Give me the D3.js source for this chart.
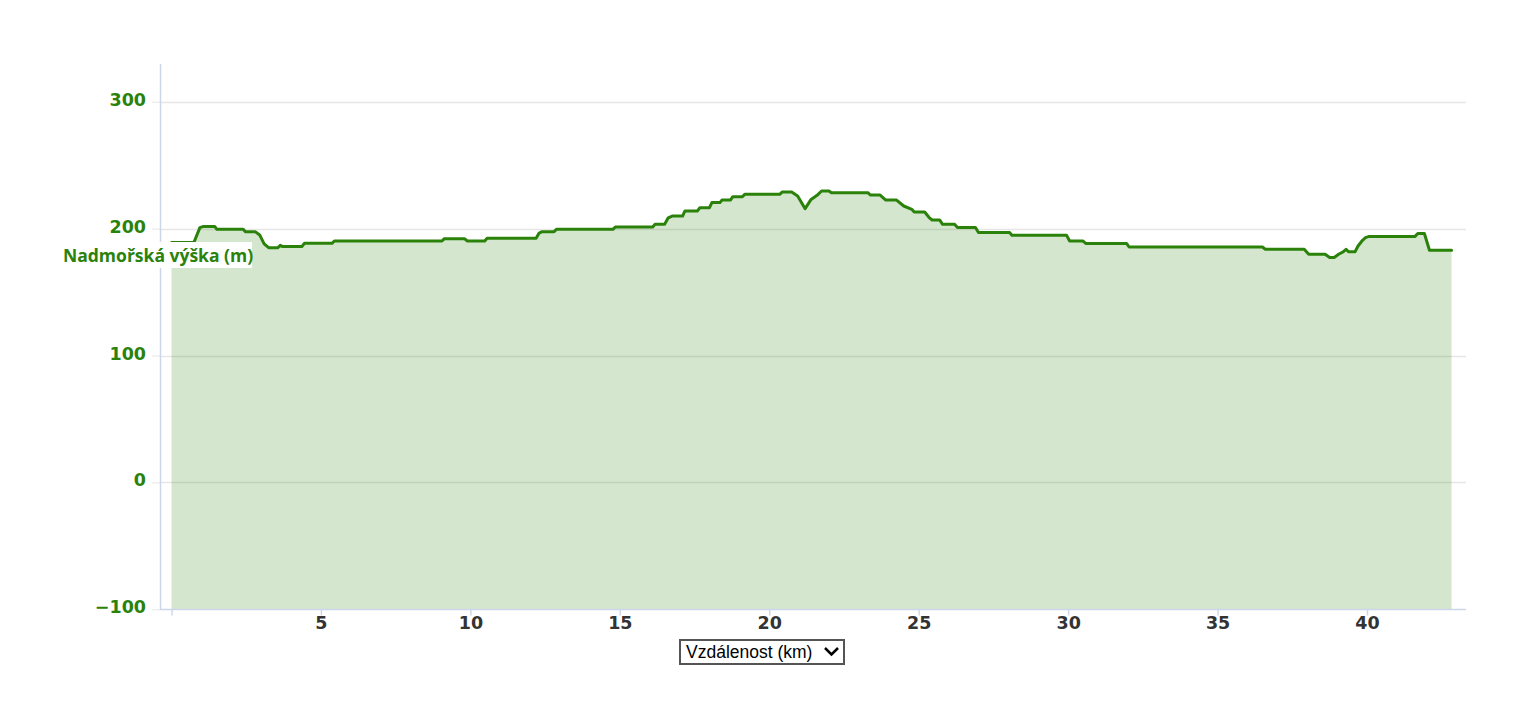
<!DOCTYPE html>
<html>
<head>
<meta charset="utf-8">
<script src="https://cdn.jsdelivr.net/npm/d3@7"></script>
<style>
  html, body { margin: 0; padding: 0; background: #fff; }
  svg { display: block; }
</style>
</head>
<body>
<svg id="chart" width="1522" height="706"></svg>
<script>
// ---- data ----
const distanceKm = [0, 0.75, 0.95, 1.05, 1.45, 1.52, 2.4, 2.47, 2.8, 2.95, 3.1, 3.25, 3.56, 3.64, 3.72, 4.36, 4.45, 5.37, 5.45, 9.05, 9.13, 9.8, 9.9, 10.48, 10.56, 12.2, 12.3, 12.4, 12.8, 12.88, 14.77, 14.85, 16.1, 16.18, 16.5, 16.62, 16.75, 17.1, 17.18, 17.6, 17.68, 18.0, 18.08, 18.35, 18.42, 18.7, 18.78, 19.1, 19.18, 20.35, 20.43, 20.75, 20.95, 21.2, 21.4, 21.6, 21.75, 22.0, 22.08, 23.3, 23.38, 23.7, 23.9, 24.26, 24.5, 24.77, 24.85, 25.2, 25.35, 25.45, 25.7, 25.8, 26.2, 26.3, 26.9, 27.0, 28.04, 28.12, 29.95, 30.05, 30.5, 30.6, 31.96, 32.04, 36.5, 36.6, 37.9, 38.05, 38.6, 38.75, 38.9, 39.05, 39.2, 39.3, 39.38, 39.6, 39.7, 39.85, 39.95, 40.05, 41.6, 41.7, 41.92, 42.09, 42.83];
const elevationM = [189, 189, 200.8, 201.6, 201.6, 199.4, 199.4, 197.6, 197.6, 195, 188, 185, 185, 186.8, 185.8, 185.8, 188.4, 188.4, 190.2, 190.2, 192.1, 192.1, 190.2, 190.2, 192.4, 192.4, 196.5, 197.6, 197.6, 199.4, 199.4, 201.3, 201.3, 203.4, 203.4, 208.5, 209.9, 209.9, 213.9, 213.9, 216.5, 216.5, 220.5, 220.5, 222.5, 222.5, 225.1, 225.1, 227, 227, 228.8, 228.8, 225.7, 215.7, 223, 226.2, 229.6, 229.6, 228.3, 228.3, 226.5, 226.5, 222.5, 222.5, 217.8, 215.2, 213.1, 213.1, 208.7, 206.8, 206.8, 203.4, 203.4, 200.8, 200.8, 196.9, 196.9, 194.7, 194.7, 190.2, 190.2, 188.2, 188.2, 185.5, 185.5, 183.7, 183.7, 179.8, 179.8, 177.2, 177.2, 179.8, 181.6, 183.7, 181.8, 181.8, 186.3, 190.8, 192.9, 193.7, 193.7, 196.1, 196.1, 182.9, 182.9];
const xTickValues = [0, 5, 10, 15, 20, 25, 30, 35, 40];
const yTickValues = [-100, 0, 100, 200, 300];
const yAxisTitle = "Nadmořská výška (m)";
const xAxisSelector = "Vzdálenost (km)";

const points = distanceKm.map((d, i) => ({ d, e: elevationM[i] }));

// ---- layout ----
const plotLeft = 160, plotRight = 1466, plotTop = 64, plotBottom = 609.5;
const green = "#2a820a";
const axisColor = "#ccd6eb";
const gridColor = "#e6e6e6";
const titleFont = "'Open Sans', 'DejaVu Sans', sans-serif";
const tickFont = "'DejaVu Sans', sans-serif";

const x = d3.scaleLinear().domain([0, 40]).range([171.5, 1367]);
const y = d3.scaleLinear().domain([-100, 300]).range([609.3, 101.7]);

const svg = d3.select("#chart");

// gridlines
svg.append("g")
  .selectAll("line")
  .data(yTickValues.filter(v => v !== -100))
  .join("line")
  .attr("x1", plotLeft).attr("x2", plotRight)
  .attr("y1", d => Math.round(y(d)) + 0.5).attr("y2", d => Math.round(y(d)) + 0.5)
  .attr("stroke", gridColor).attr("stroke-width", 1.5);

// area + line
const area = d3.area()
  .x(p => x(p.d))
  .y0(y(-100))
  .y1(p => y(p.e));
const line = d3.line()
  .x(p => x(p.d))
  .y(p => y(p.e));

svg.append("path")
  .datum(points)
  .attr("d", area)
  .attr("fill", green)
  .attr("fill-opacity", 0.2);

svg.append("path")
  .datum(points)
  .attr("d", line)
  .attr("fill", "none")
  .attr("stroke", green)
  .attr("stroke-width", 3)
  .attr("stroke-linejoin", "round")
  .attr("stroke-linecap", "round");

// y axis
const yAxis = d3.axisLeft(y)
  .tickValues(yTickValues)
  .tickSize(8)
  .tickPadding(6)
  .tickFormat(d => d < 0 ? "\u2212" + Math.abs(d) : String(d));
const gy = svg.append("g")
  .attr("transform", `translate(${plotLeft},0)`)
  .call(yAxis);
gy.select(".domain").remove();
gy.selectAll(".tick line").attr("stroke", gridColor);
gy.selectAll(".tick text")
  .attr("fill", green)
  .attr("font-family", tickFont)
  .attr("font-weight", 700)
  .attr("font-size", "17.5px")
  .attr("dy", "0.2em");
svg.append("line")
  .attr("x1", plotLeft + 0.5).attr("x2", plotLeft + 0.5)
  .attr("y1", plotTop).attr("y2", plotBottom)
  .attr("stroke", axisColor).attr("stroke-width", 1.5);

// x axis
const xAxis = d3.axisBottom(x)
  .tickValues(xTickValues)
  .tickSize(6)
  .tickPadding(1.5)
  .tickFormat(d => d === 0 ? "" : String(d));
const gx = svg.append("g")
  .attr("transform", `translate(0,${plotBottom})`)
  .call(xAxis);
gx.select(".domain").remove();
gx.selectAll(".tick line").attr("stroke", axisColor).attr("stroke-width", 1.5);
gx.selectAll(".tick text")
  .attr("fill", "#333333")
  .attr("font-family", tickFont)
  .attr("font-weight", 700)
  .attr("font-size", "17.5px");
svg.append("line")
  .attr("x1", plotLeft).attr("x2", plotRight)
  .attr("y1", plotBottom).attr("y2", plotBottom)
  .attr("stroke", axisColor).attr("stroke-width", 1.5);

// y axis title box
const tg = svg.append("g");
tg.append("rect")
  .attr("x", 62).attr("y", 242).attr("width", 190).attr("height", 26)
  .attr("fill", "#ffffff");
tg.append("text")
  .attr("x", 63).attr("y", 262)
  .attr("fill", green)
  .attr("font-family", titleFont)
  .attr("font-weight", 700)
  .attr("font-size", "17.5px")
  .text(yAxisTitle);

// x axis selector (drawn)
const sel = svg.append("g");
sel.append("rect")
  .attr("x", 680).attr("y", 640).attr("width", 164).attr("height", 24)
  .attr("fill", "#ffffff").attr("stroke", "#555555").attr("stroke-width", 2);
sel.append("text")
  .attr("x", 686).attr("y", 657.5)
  .attr("fill", "#000000")
  .attr("font-family", "'Liberation Sans', Arial, sans-serif")
  .attr("font-size", "17.5px")
  .text(xAxisSelector);
sel.append("path")
  .attr("d", "M825,648 L831.5,654.5 L838,648")
  .attr("fill", "none").attr("stroke", "#000").attr("stroke-width", 2.5);
</script>
</body>
</html>
